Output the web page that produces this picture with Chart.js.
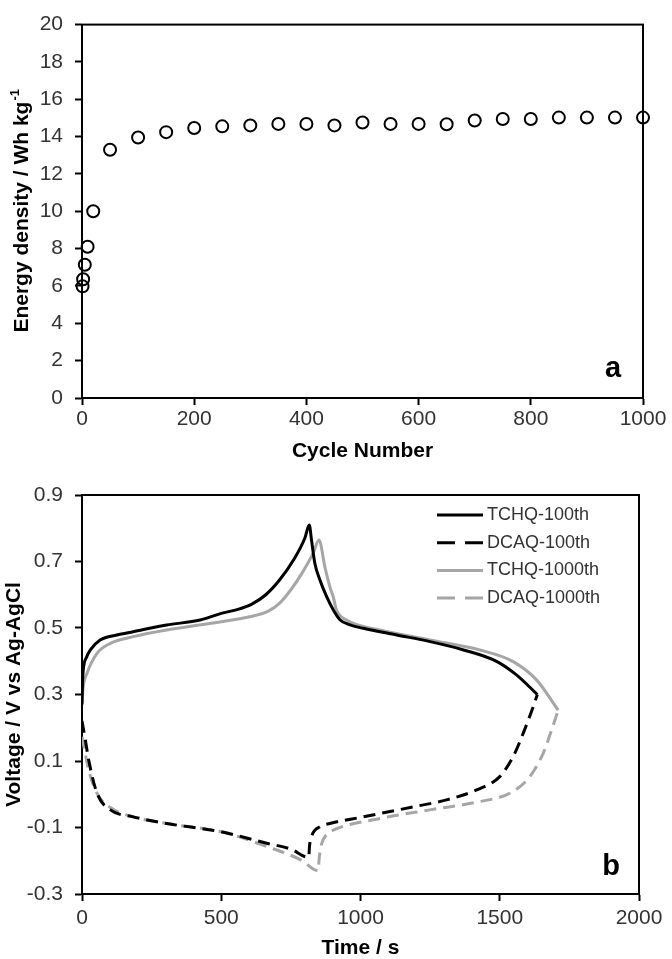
<!DOCTYPE html>
<html><head><meta charset="utf-8">
<script src="https://cdn.jsdelivr.net/npm/chart.js@4.4.1/dist/chart.umd.min.js"></script>
<style>
html,body{margin:0;padding:0;background:#fff;width:672px;height:959px;overflow:hidden;}
canvas{position:absolute;left:0;}
#c1{top:0;}
#c2{top:470px;}
</style></head><body>
<canvas id="c1" width="672" height="470"></canvas>
<canvas id="c2" width="672" height="489"></canvas>
<script>
// ---------- Panel a ----------
const cycleNumbers = [1,2,5,10,20,50,100,150,200,250,300,350,400,450,500,550,600,650,700,750,800,850,900,950,1000];
const energyDensity = [5.98,6.36,7.14,8.1,10.0,13.3,13.95,14.24,14.46,14.55,14.6,14.68,14.68,14.6,14.76,14.68,14.68,14.66,14.86,14.94,14.94,15.02,15.02,15.02,15.02];
const cycleTicks = [0,200,400,600,800,1000];
const energyTicks = [0,2,4,6,8,10,12,14,16,18,20];

// ---------- Panel b ----------
const seriesNames = ['TCHQ-100th','DCAQ-100th','TCHQ-1000th','DCAQ-1000th'];
const tchq100Time = [0,2,6,15,30,65,125,184,304,424,500,560,610,660,710,760,800,816,824,836,854,878,902,926,960,1010,1130,1250,1370,1490,1560,1635];
const tchq100Voltage = [0.27,0.34,0.385,0.41,0.434,0.464,0.479,0.489,0.509,0.524,0.544,0.556,0.572,0.60,0.645,0.705,0.77,0.81,0.765,0.695,0.645,0.595,0.555,0.525,0.51,0.499,0.479,0.459,0.434,0.399,0.359,0.30];
const dcaq100Time = [0,12,24,54,102,184,304,500,667,750,814,817,825,854,890,1010,1189,1309,1417,1500,1548,1584,1620,1635];
const dcaq100Voltage = [0.22,0.163,0.103,0.003,-0.047,-0.068,-0.088,-0.113,-0.148,-0.165,-0.19,-0.155,-0.125,-0.098,-0.088,-0.068,-0.038,-0.017,0.013,0.053,0.113,0.183,0.263,0.30];
const tchq1000Time = [0,4,18,54,102,184,304,500,603,667,710,750,790,830,851,872,890,902,914,950,1070,1249,1428,1548,1632,1710];
const tchq1000Voltage = [0.273,0.32,0.364,0.424,0.454,0.474,0.494,0.519,0.534,0.55,0.575,0.615,0.665,0.725,0.765,0.684,0.624,0.594,0.554,0.524,0.494,0.464,0.434,0.399,0.344,0.253];
const dcaq1000Time = [0,24,54,102,184,304,500,667,787,848,852,860,880,902,1070,1249,1428,1536,1608,1656,1686,1710];
const dcaq1000Voltage = [0.173,0.073,0.003,-0.04,-0.068,-0.088,-0.113,-0.158,-0.198,-0.23,-0.19,-0.15,-0.12,-0.108,-0.073,-0.047,-0.022,0.003,0.053,0.123,0.193,0.253];
const timeTicks = [0,500,1000,1500,2000];
const voltageTicks = [-0.3,-0.1,0.1,0.3,0.5,0.7,0.9];

const FONT = "'Liberation Sans', Arial, sans-serif";
const TICK_COLOR = '#333';
const GRAY = '#a6a6a6';

function pts(xs, ys){ return xs.map((x,i)=>({x:x, y:ys[i]})); }

const framePlugin = {
  id:'frame',
  beforeDatasetsDraw(chart){
    const {ctx, chartArea:a} = chart;
    ctx.save(); ctx.strokeStyle='#000'; ctx.lineWidth=2;
    ctx.strokeRect(a.left, a.top, a.right-a.left, a.bottom-a.top);
    ctx.restore();
  }
};

function axisCommon(){
  return {
    grid:{drawOnChartArea:false, drawTicks:true, tickLength:7, tickWidth:2, tickColor:'#000'},
    border:{color:'#000', width:2},
  };
}

// ---------- Chart a ----------
new Chart(document.getElementById('c1'), {
  type:'scatter',
  data:{datasets:[{
    label:'Energy density',
    data: pts(cycleNumbers, energyDensity),
    showLine:false, pointStyle:'circle', pointRadius:6, pointHoverRadius:6,
    pointBorderWidth:2, pointBorderColor:'#000', pointBackgroundColor:'rgba(0,0,0,0)', clip:false
  }]},
  options:{
    responsive:false, animation:false, devicePixelRatio:1,
    layout:{padding:{top:15,right:29,left:0,bottom:0}},
    plugins:{legend:{display:false}, tooltip:{enabled:false}},
    scales:{
      x:Object.assign(axisCommon(), {
        type:'linear', min:0, max:1000,
        afterBuildTicks:s=>{ s.ticks = cycleTicks.map(v=>({value:v})); },
        afterFit:s=>{ s.height = 72; },
        ticks:{font:{family:FONT,size:21}, color:TICK_COLOR, padding:2, maxRotation:0, autoSkip:false, callback:v=>String(v)},
        title:{display:true, text:'Cycle Number', font:{family:FONT,size:21,weight:'bold'}, color:'#000', padding:{top:0,bottom:6}}
      }),
      y:Object.assign(axisCommon(), {
        type:'linear', min:0, max:20,
        afterBuildTicks:s=>{ s.ticks = energyTicks.map(v=>({value:v})); },
        afterFit:s=>{ s.width = 82; },
        ticks:{font:{family:FONT,size:21}, color:TICK_COLOR, padding:12, autoSkip:false, callback:v=>String(v)},
        title:{display:false}
      })
    }
  },
  plugins:[framePlugin, {
    id:'annotA',
    afterDraw(chart){
      const ctx = chart.ctx;
      const a = chart.chartArea;
      ctx.save();
      const main = 'Energy density / Wh kg';
      const sup = '-1';
      ctx.font = 'bold 21px ' + FONT;
      const wMain = ctx.measureText(main).width;
      ctx.font = 'bold 13px ' + FONT;
      const wSup = ctx.measureText(sup).width;
      const total = wMain + wSup;
      ctx.translate(28, (a.top + a.bottom)/2);
      ctx.rotate(-Math.PI/2);
      ctx.fillStyle = '#000';
      ctx.textBaseline = 'alphabetic';
      ctx.textAlign = 'left';
      ctx.font = 'bold 21px ' + FONT;
      ctx.fillText(main, -total/2, 0);
      ctx.font = 'bold 13px ' + FONT;
      ctx.fillText(sup, -total/2 + wMain + 1, -9);
      ctx.restore();
      ctx.save();
      ctx.font = 'bold 29px ' + FONT;
      ctx.fillStyle = '#000';
      ctx.textAlign = 'center'; ctx.textBaseline = 'middle';
      ctx.fillText('a', 613, 369);
      ctx.restore();
    }
  }]
});

// ---------- Chart b ----------
const seriesStyles = [
  {color:'#000', dash:[]},
  {color:'#000', dash:[12,7]},
  {color:GRAY, dash:[]},
  {color:GRAY, dash:[12,7]}
];
const seriesData = [
  pts(tchq100Time, tchq100Voltage),
  pts(dcaq100Time, dcaq100Voltage),
  pts(tchq1000Time, tchq1000Voltage),
  pts(dcaq1000Time, dcaq1000Voltage)
];

new Chart(document.getElementById('c2'), {
  type:'scatter',
  data:{datasets: seriesNames.map((name,i)=>({
    label:name, data:seriesData[i], showLine:true,
    borderColor:seriesStyles[i].color, backgroundColor:seriesStyles[i].color,
    borderWidth:3, borderDash:seriesStyles[i].dash, pointRadius:0, pointHoverRadius:0,
    cubicInterpolationMode:'monotone', fill:false
  }))},
  options:{
    responsive:false, animation:false, devicePixelRatio:1,
    layout:{padding:{top:25,right:33,left:0,bottom:0}},
    plugins:{legend:{display:false}, tooltip:{enabled:false}},
    scales:{
      x:Object.assign(axisCommon(), {
        type:'linear', min:0, max:2000,
        afterBuildTicks:s=>{ s.ticks = timeTicks.map(v=>({value:v})); },
        afterFit:s=>{ s.height = 65; },
        ticks:{font:{family:FONT,size:21}, color:TICK_COLOR, padding:5, maxRotation:0, autoSkip:false, callback:v=>String(v)},
        title:{display:true, text:'Time / s', font:{family:FONT,size:21,weight:'bold',lineHeight:1}, color:'#000', padding:{top:0,bottom:0}}
      }),
      y:Object.assign(axisCommon(), {
        type:'linear', min:-0.3, max:0.9,
        afterBuildTicks:s=>{ s.ticks = voltageTicks.map(v=>({value:v})); },
        afterFit:s=>{ s.width = 82; },
        ticks:{font:{family:FONT,size:21}, color:TICK_COLOR, padding:12, autoSkip:false, callback:v=>Number(v).toFixed(1)},
        title:{display:true, text:'Voltage / V vs Ag-AgCl', font:{family:FONT,size:21,weight:'bold'}, color:'#000', padding:{top:2,bottom:0}}
      })
    }
  },
  plugins:[framePlugin, {
    id:'legendB',
    afterDraw(chart){
      const ctx = chart.ctx;
      ctx.save();
      chart.data.datasets.forEach((ds,i)=>{
        const y = 45 + i*27.7;
        ctx.beginPath();
        ctx.strokeStyle = ds.borderColor;
        ctx.lineWidth = 3;
        ctx.setLineDash(ds.borderDash && ds.borderDash.length ? [18,10] : []);
        ctx.moveTo(437, y); ctx.lineTo(483, y);
        ctx.stroke();
        ctx.setLineDash([]);
        ctx.font = '18px ' + FONT;
        ctx.fillStyle = TICK_COLOR;
        ctx.textAlign = 'left'; ctx.textBaseline = 'middle';
        ctx.fillText(ds.label, 487, y);
      });
      ctx.font = 'bold 29px ' + FONT;
      ctx.fillStyle = '#000';
      ctx.textAlign = 'center'; ctx.textBaseline = 'middle';
      ctx.fillText('b', 611, 397);
      ctx.restore();
    }
  }]
});
</script>
</body></html>
